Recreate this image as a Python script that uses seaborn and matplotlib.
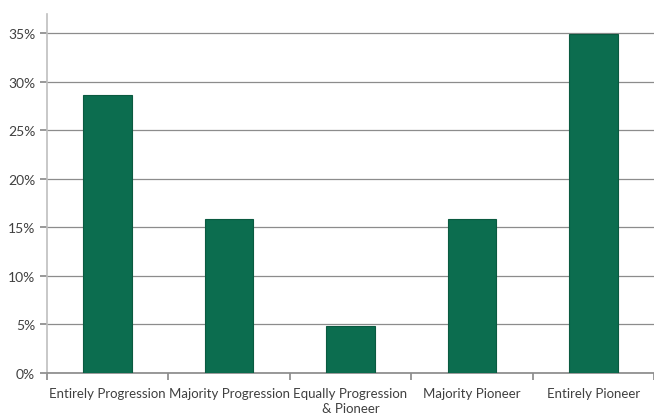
import matplotlib
matplotlib.use('Agg')
import matplotlib.pyplot as plt
import matplotlib.ticker as mticker
import seaborn as sns
import pandas as pd

sns.set_theme(style='white')
plt.rcParams['font.family'] = ['Lato', 'DejaVu Sans']

categories = ['Entirely Progression', 'Majority Progression',
              'Equally Progression\n& Pioneer', 'Majority Pioneer', 'Entirely Pioneer']
shares = [28.6, 15.9, 4.8, 15.9, 34.9]

df = pd.DataFrame({'cat': categories, 'share': shares})

fig = plt.figure(figsize=(6.54, 4.14), dpi=100)
ax = fig.add_axes([47/654, 40/414, 607/654, 359/414])

sns.barplot(data=df, x='cat', y='share', color='#0c6d4f', saturation=1,
            width=0.4, edgecolor='#0a5a40', linewidth=0.8, ax=ax, zorder=3)

ax.set_ylim(0, 36.96)
ax.set_xlim(-0.5, 4.5)
ax.set_yticks(range(0, 40, 5))
ax.yaxis.set_major_formatter(mticker.FuncFormatter(lambda v, _: f'{v:.0f}%'))
ax.yaxis.grid(True, color='#8c8c8c', linewidth=0.9, zorder=0)
ax.set_xlabel('')
ax.set_ylabel('')

for s in ['top', 'right']:
    ax.spines[s].set_visible(False)
ax.spines['left'].set_color('#bfbfbf')
ax.spines['left'].set_linewidth(1.2)
ax.spines['bottom'].set_color('#8c8c8c')

# category tick marks between the bars, labels under each bar
ax.set_xticks([i + 0.5 for i in range(-1, 5)], minor=False)
ax.set_xticklabels([])
ax.set_xticks(range(5), minor=True)
ax.set_xticklabels(categories, minor=True, fontsize=9.5, color='#404040',
                   linespacing=1.3)
ax.tick_params(axis='x', which='major', length=5, color='#8c8c8c', direction='out', bottom=True)
ax.tick_params(axis='x', which='minor', length=0, pad=10)
ax.tick_params(axis='y', length=5, color='#8c8c8c', direction='out', left=True,
               labelsize=10, labelcolor='#404040')

fig.savefig('out.png', dpi=100)
